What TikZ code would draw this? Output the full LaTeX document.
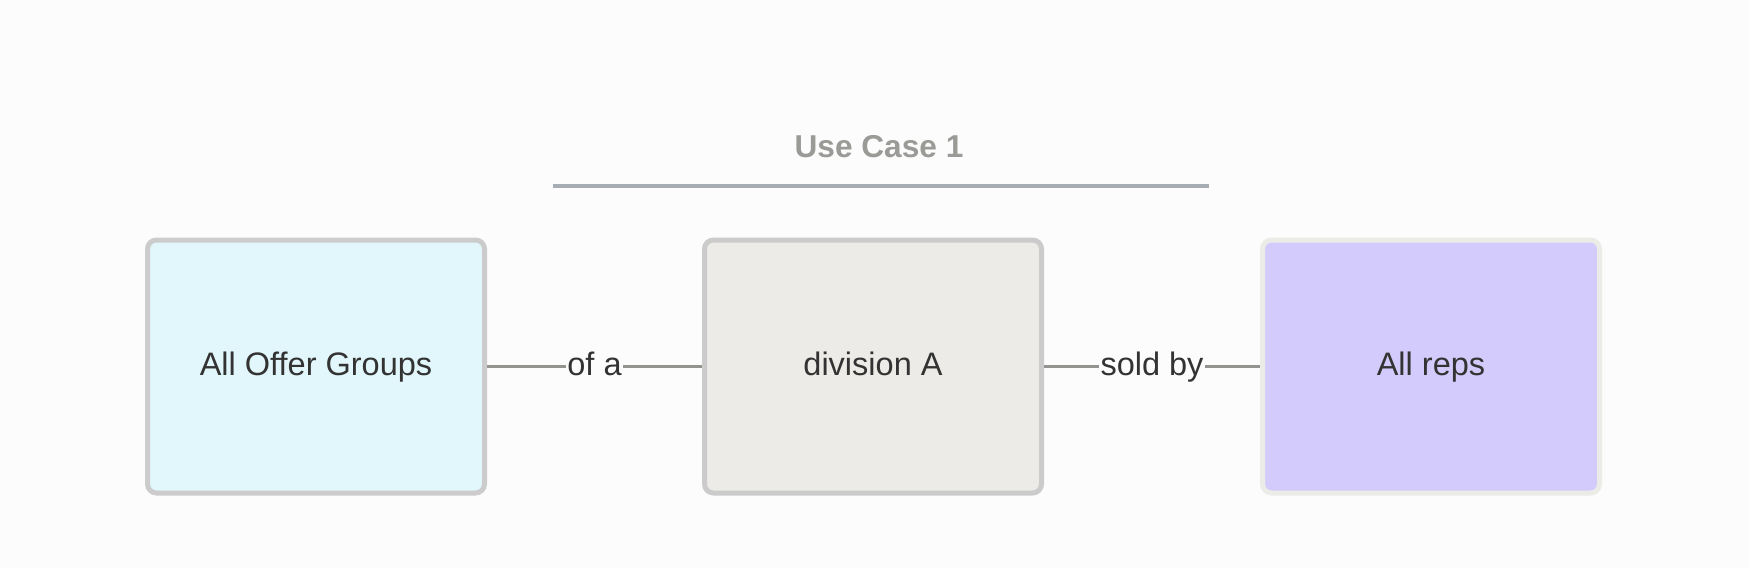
\documentclass[tikz,border=0pt]{standalone}
\usepackage{fontspec}
\setmainfont{Liberation Sans}
\usepackage{xcolor}
\usetikzlibrary{arrows.meta}

\definecolor{BgGray}{HTML}{FCFCFC}
\definecolor{InkGray}{HTML}{333333}
\definecolor{TitleGray}{HTML}{9A9A97}
\definecolor{RuleGray}{HTML}{A6ADB4}
\definecolor{LinkGray}{HTML}{939390}
\definecolor{OfferFill}{HTML}{E2F7FB}
\definecolor{OfferEdge}{HTML}{CCCCCC}
\definecolor{DivFill}{HTML}{ECEBE7}
\definecolor{DivEdge}{HTML}{CBCBCB}
\definecolor{RepFill}{HTML}{D3CBFB}
\definecolor{RepEdge}{HTML}{EBEBE8}

\tikzset{
    entity/.style={rectangle, rounded corners=0.18cm, line width=0.1cm,
        minimum width=6.74cm, minimum height=5.06cm, inner sep=0pt,
        text=InkGray, font=\fontsize{18.5}{22}\selectfont,
        text height=1.05em, text depth=0pt},
    link/.style={LinkGray, line width=0.06cm},
    linklabel/.style={fill=BgGray, inner sep=1pt, text=InkGray,
        font=\fontsize{18.5}{22}\selectfont, text height=1.05em, text depth=0pt}
}

\begin{document}
\begin{tikzpicture}
        \fill[BgGray] (0,0) rectangle (34.98, 11.36);
        \useasboundingbox (0,0) rectangle (34.98, 11.36);

        % heading
        \node[text=TitleGray, font=\fontsize{18}{22}\bfseries] (title) at (17.58, 8.42) {Use Case 1};
        \draw[RuleGray, line width=0.08cm] (11.06, 7.64) -- (24.18, 7.64);

        % the three entities
        \node[entity, draw=OfferEdge, fill=OfferFill] (offers) at (6.32, 4.03) {All Offer Groups};
        \node[entity, draw=DivEdge, fill=DivFill] (division) at (17.46, 4.03) {division A};
        \node[entity, draw=RepEdge, fill=RepFill] (reps) at (28.62, 4.03) {All reps};

        \draw[link] (offers) -- node[linklabel] {of a} (division);
        \draw[link] (division) -- node[linklabel] {sold by} (reps);
    \end{tikzpicture}
\end{document}
